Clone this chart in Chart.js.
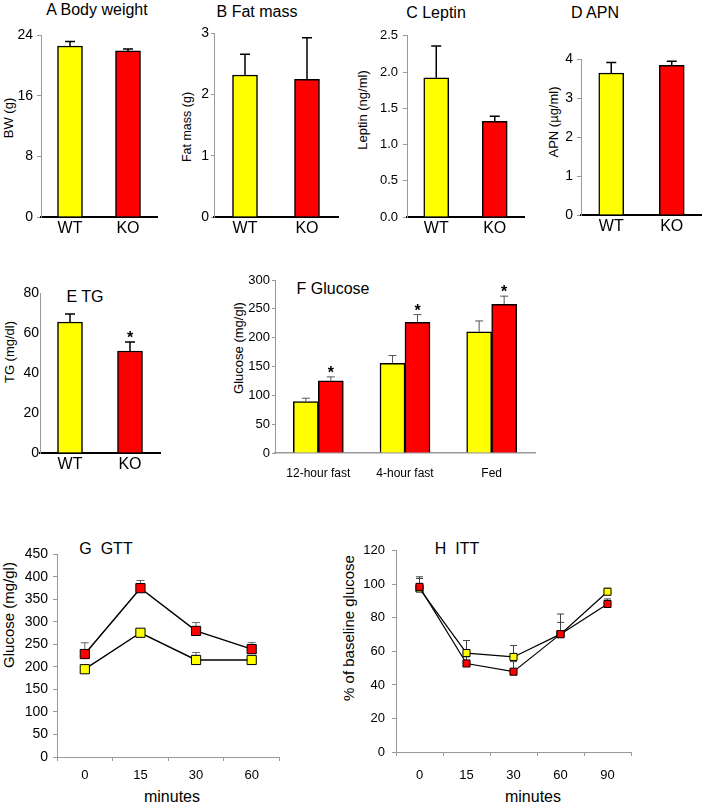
<!DOCTYPE html>
<html>
<head>
<meta charset="utf-8">
<script src="https://cdn.jsdelivr.net/npm/chart.js@4.4.1/dist/chart.umd.min.js"></script>
<style>
body { margin: 0; background: #fff; }
#fig { position: relative; width: 702px; height: 808px; overflow: hidden; font-family: 'Liberation Sans', Arial, sans-serif; color: #000; }
#fig canvas { position: absolute; }
.t { position: absolute; transform: translate(-50%, -50%); white-space: pre; line-height: 1; }
.r { transform: translate(-50%, -50%) rotate(-90deg); }
</style>
</head>
<body>
<div id="fig">
  <div class="t" style="left:97px;top:10px;font-size:16px">A Body weight</div>
  <div class="t" style="left:257px;top:12px;font-size:16px">B Fat mass</div>
  <div class="t" style="left:436px;top:13px;font-size:16px">C Leptin</div>
  <div class="t" style="left:595px;top:13px;font-size:16px">D APN</div>
  <div class="t" style="left:85px;top:297px;font-size:16px">E TG</div>
  <div class="t" style="left:333px;top:289px;font-size:16px">F Glucose</div>
  <div class="t" style="left:106px;top:549px;font-size:16px">G  GTT</div>
  <div class="t" style="left:457px;top:549px;font-size:16px">H  ITT</div>

  <div class="t r" style="left:8px;top:118px;font-size:13px">BW (g)</div>
  <div class="t r" style="left:187px;top:127px;font-size:12.5px">Fat mass (g)</div>
  <div class="t r" style="left:362px;top:110px;font-size:13px">Leptin (ng/ml)</div>
  <div class="t r" style="left:553px;top:122px;font-size:13px">APN (µg/ml)</div>
  <div class="t r" style="left:9px;top:352px;font-size:13px">TG (mg/dl)</div>
  <div class="t r" style="left:238px;top:348px;font-size:13px">Glucose (mg/gl)</div>
  <div class="t r" style="left:8px;top:615px;font-size:15px">Glucose (mg/gl)</div>
  <div class="t r" style="left:348px;top:628px;font-size:15px">% of baseline glucose</div>

  <div class="t" style="left:172px;top:797px;font-size:16px">minutes</div>
  <div class="t" style="left:533px;top:797px;font-size:16px">minutes</div>
</div>
<script>
// values (mean and upper error)
const groups = ['WT', 'KO'];
const bodyWeight = [22.6, 21.95];
const bodyWeightErr = [0.6, 0.25];
const fatMass = [2.32, 2.25];
const fatMassErr = [0.34, 0.68];
const leptin = [1.92, 1.32];
const leptinErr = [0.44, 0.07];
const apn = [3.65, 3.85];
const apnErr = [0.27, 0.1];
const tg = [65.5, 51];
const tgErr = [4, 4.5];
const tgStar = [false, true];

const glucoseConds = ['12-hour fast', '4-hour fast', 'Fed'];
const glucoseWT = [89, 155.5, 210];
const glucoseWTErr = [6, 13.5, 19];
const glucoseKO = [125, 226.5, 258];
const glucoseKOErr = [7, 13.5, 14];
const glucoseStar = [true, true, true];

const gttMinutes = ['0', '15', '30', '60'];
const gttWT = [195, 276, 215.5, 215.5];
const gttWTErr = [5, 6, 16.5, 5];
const gttKO = [228.7, 375, 280, 239.6];
const gttKOErr = [25, 17, 18.6, 14.4];

const ittMinutes = ['0', '15', '30', '60', '90'];
const ittWT = [97.5, 59, 56.7, 70.3, 95.6];
const ittWTErr = [7, 7.5, 6.8, 12, 2];
const ittKO = [98.5, 52.8, 47.9, 70.3, 88.3];
const ittKOErr = [5, 4, 6, 7, 3];

const YELLOW = '#ffff00', RED = '#ff0000', GRAY = '#9a9a9a';
Chart.defaults.font.family = "'Liberation Sans', Arial, sans-serif";
Chart.defaults.color = '#000';

function drawErrors(chart, o) {
  const ctx = chart.ctx, ys = chart.scales.y;
  ctx.save();
  ctx.strokeStyle = o.color;
  ctx.lineWidth = o.width;
  chart.data.datasets.forEach((ds, di) => {
    const pts = chart.getDatasetMeta(di).data;
    (ds.errors || []).forEach((e, i) => {
      if (!e) return;
      const x = pts[i].x;
      const y0 = ys.getPixelForValue(ds.data[i]);
      const y1 = ys.getPixelForValue(ds.data[i] + e);
      ctx.beginPath();
      ctx.moveTo(x, y0); ctx.lineTo(x, y1);
      ctx.moveTo(x - o.cap / 2, y1); ctx.lineTo(x + o.cap / 2, y1);
      ctx.stroke();
    });
  });
  ctx.restore();
}

function drawStars(chart) {
  const ctx = chart.ctx, ys = chart.scales.y;
  ctx.save();
  ctx.fillStyle = '#000';
  ctx.font = "bold 16px 'Liberation Sans', Arial, sans-serif";
  ctx.textAlign = 'center';
  ctx.textBaseline = 'alphabetic';
  chart.data.datasets.forEach((ds, di) => {
    const pts = chart.getDatasetMeta(di).data;
    (ds.stars || []).forEach((s, i) => {
      if (!s) return;
      const top = ys.getPixelForValue(ds.data[i] + (ds.errors ? ds.errors[i] : 0));
      ctx.fillText('*', pts[i].x, top + 1);
    });
  });
  ctx.restore();
}

const errorBars = {
  id: 'errorBars',
  defaults: { color: '#000', width: 1.5, cap: 10, behind: false },
  beforeDatasetsDraw(chart, args, o) { if (o.behind) drawErrors(chart, o); },
  afterDatasetsDraw(chart, args, o) { if (!o.behind) drawErrors(chart, o); drawStars(chart); }
};
Chart.register(errorBars);

const fig = document.getElementById('fig');

function makePanel(p) {
  const [l, t, r, b] = p.plot;
  const yW = 44, rightPad = Math.min(4, 702 - r);
  const left = l - yW, top = t - 10;
  const c = document.createElement('canvas');
  c.width = r - left + rightPad;
  c.height = b + p.xH - top;
  c.style.left = left + 'px';
  c.style.top = top + 'px';
  fig.appendChild(c);
  new Chart(c, {
    type: p.type,
    data: { labels: p.labels, datasets: p.datasets },
    options: {
      responsive: false, animation: false, events: [],
      layout: { padding: { top: 10, right: rightPad, left: 0, bottom: 0 } },
      plugins: { legend: { display: false }, tooltip: { enabled: false }, errorBars: p.err },
      scales: {
        x: {
          offset: true,
          grid: { display: !!p.xTicks, drawOnChartArea: false, offset: true, drawTicks: !!p.xTicks, tickLength: 4, color: GRAY },
          border: { color: p.xAxisColor, width: p.xAxisWidth },
          ticks: { color: '#000', font: { size: p.xFont }, padding: p.xPad, maxRotation: 0, autoSkip: false },
          afterFit(s) { s.height = p.xH; }
        },
        y: {
          min: 0, max: p.yMax,
          grid: { drawOnChartArea: false, drawTicks: p.yTickLen > 0, tickLength: p.yTickLen, color: GRAY },
          border: { color: GRAY, width: 1 },
          ticks: { stepSize: p.yStep, color: '#000', font: { size: p.yFont }, padding: p.yPad,
                   callback: p.yFmt || (v => v) },
          afterFit(s) { s.width = yW; }
        }
      }
    }
  });
}

function barSet(values, errs, stars) {
  return [{ data: values, errors: errs, stars: stars, backgroundColor: [YELLOW, RED],
            borderColor: '#000', borderWidth: 1.5, barThickness: 25 }];
}

const wtkoAxis = { type: 'bar', xH: 30, xFont: 16, xPad: 2, xAxisColor: '#000', xAxisWidth: 2,
                   err: { color: '#000', width: 1.5, cap: 10 } };

makePanel(Object.assign({}, wtkoAxis, { plot: [41, 33, 157, 217], labels: groups,
  datasets: barSet(bodyWeight, bodyWeightErr), yMax: 24, yStep: 8, yFont: 14, yPad: 4, yTickLen: 4 }));
makePanel(Object.assign({}, wtkoAxis, { plot: [214, 33, 338, 217], labels: groups,
  datasets: barSet(fatMass, fatMassErr), yMax: 3, yStep: 1, yFont: 14, yPad: 2, yTickLen: 3 }));
makePanel(Object.assign({}, wtkoAxis, { plot: [407, 33, 524, 217], labels: groups,
  datasets: barSet(leptin, leptinErr), yMax: 2.5, yStep: 0.5, yFont: 13, yPad: 5, yTickLen: 4,
  yFmt: v => v.toFixed(1) }));
makePanel(Object.assign({}, wtkoAxis, { plot: [581, 57, 702, 215], labels: groups,
  datasets: barSet(apn, apnErr), yMax: 4, yStep: 1, yFont: 14, yPad: 4, yTickLen: 4 }));
makePanel(Object.assign({}, wtkoAxis, { plot: [40, 293, 160, 453], labels: groups,
  datasets: barSet(tg, tgErr, tgStar), yMax: 80, yStep: 20, yFont: 14, yPad: 1, yTickLen: 0 }));

makePanel({ type: 'bar', plot: [275, 280, 535, 453], labels: glucoseConds, xH: 32, xFont: 12, xPad: 13,
  xAxisColor: GRAY, xAxisWidth: 1.5, yMax: 300, yStep: 50, yFont: 13, yPad: 2, yTickLen: 3,
  err: { color: '#555', width: 1, cap: 8 },
  datasets: [
    { data: glucoseWT, errors: glucoseWTErr, backgroundColor: YELLOW, borderColor: '#000', borderWidth: 1.5, barThickness: 25 },
    { data: glucoseKO, errors: glucoseKOErr, stars: glucoseStar, backgroundColor: RED, borderColor: '#000', borderWidth: 1.5, barThickness: 25 }
  ] });

function lineSet(values, errs, color, order, r, lw) {
  return { data: values, errors: errs, order: order, borderColor: '#000', borderWidth: lw, tension: 0, fill: false,
           pointStyle: 'rect', pointRadius: r, pointBackgroundColor: color, pointBorderColor: '#000', pointBorderWidth: 1 };
}

makePanel({ type: 'line', plot: [57, 551, 283, 757], labels: gttMinutes, xH: 30, xFont: 13, xPad: 7, xTicks: true,
  xAxisColor: GRAY, xAxisWidth: 1, yMax: 450, yStep: 50, yFont: 14, yPad: 5, yTickLen: 4,
  err: { color: '#666', width: 1, cap: 8, behind: true },
  datasets: [lineSet(gttWT, gttWTErr, YELLOW, 1, 6.5, 1.5), lineSet(gttKO, gttKOErr, RED, 0, 6.5, 1.5)] });

makePanel({ type: 'line', plot: [396, 546, 633, 752], labels: ittMinutes, xH: 30, xFont: 13, xPad: 12, xTicks: true,
  xAxisColor: GRAY, xAxisWidth: 1, yMax: 120, yStep: 20, yFont: 13, yPad: 7, yTickLen: 4,
  err: { color: '#444', width: 1, cap: 7, behind: true },
  datasets: [lineSet(ittWT, ittWTErr, YELLOW, 1, 5, 1.2), lineSet(ittKO, ittKOErr, RED, 0, 5, 1.2)] });
</script>
</body>
</html>
